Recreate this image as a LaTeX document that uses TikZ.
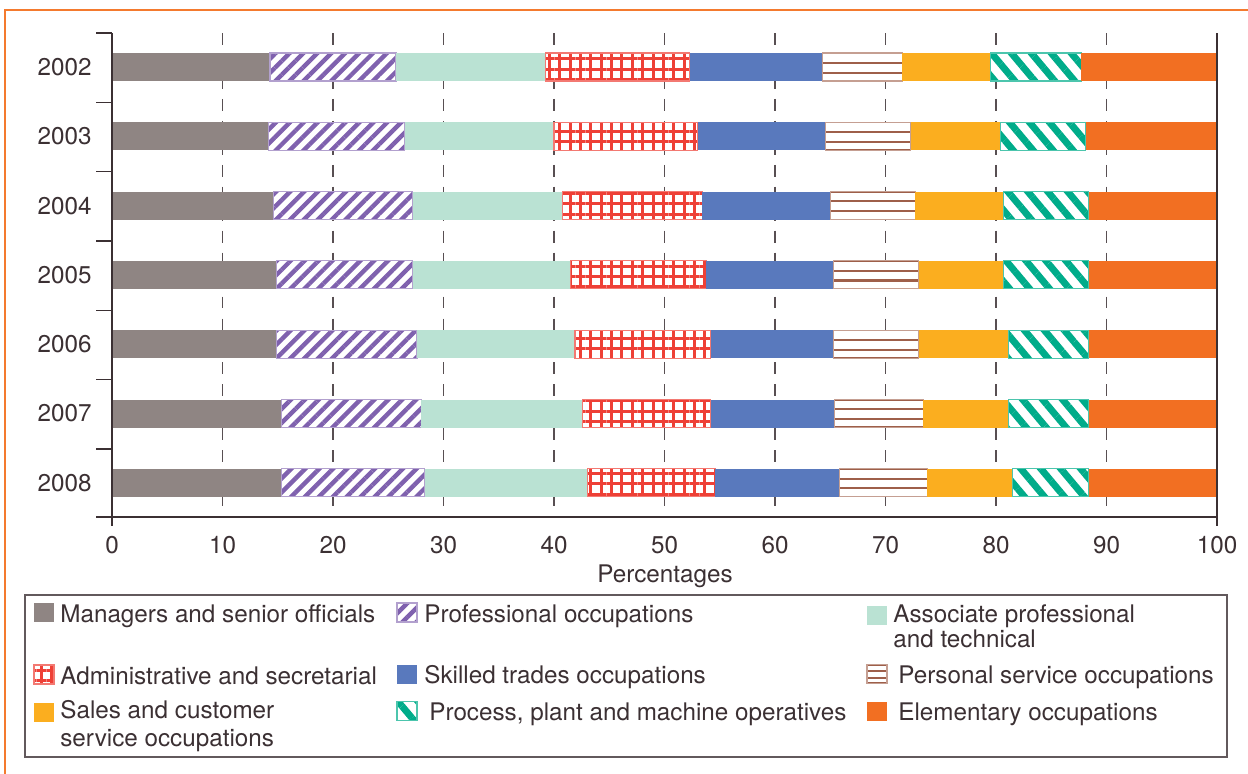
\documentclass[tikz,border=0pt]{standalone}
\usepackage{fontspec}
\setmainfont{TeX Gyre Heros}
\usepackage{tikz}
\usetikzlibrary{calc}
\usetikzlibrary{patterns.meta}
\definecolor{MgrCol}{HTML}{8F8583}
\definecolor{ProfCol}{HTML}{7F61AE}
\definecolor{AssocCol}{HTML}{BAE2D3}
\definecolor{AdminCol}{HTML}{EE4036}
\definecolor{SkilledCol}{HTML}{5979BD}
\definecolor{PersCol}{HTML}{9E5F4A}
\definecolor{SalesCol}{HTML}{FBAE1F}
\definecolor{ProcCol}{HTML}{00AC8A}
\definecolor{ElemCol}{HTML}{F26F22}
\definecolor{FrameCol}{HTML}{F47A2E}
\definecolor{InkCol}{HTML}{3B3033}
\newcommand{\xpos}[1]{112+11.05*#1}

\begin{document}
\begin{tikzpicture}[
x=0.02cm, y=-0.02cm,
every node/.style={font=\fontsize{13.8}{16.5}\selectfont, text=InkCol},
MgrFill/.style={fill=MgrCol},
ProfFill/.style={preaction={fill=white}, pattern={Lines[angle=45,distance=5.6pt,line width=2.5pt]}, pattern color=ProfCol, draw=ProfCol!60, line width=0.6pt},
AssocFill/.style={fill=AssocCol},
AdminFill/.style={preaction={fill=white}, pattern={Hatch[distance=5.9pt,line width=1.7pt]}, pattern color=AdminCol, draw=AdminCol!70, line width=0.6pt},
SkilledFill/.style={fill=SkilledCol},
PersFill/.style={fill=white, draw=PersCol!60, line width=0.6pt,
  path picture={
    \draw[PersCol, line width=1.2pt]
      ($(path picture bounding box.north west)!0.35!(path picture bounding box.south west)$) --
      ($(path picture bounding box.north east)!0.35!(path picture bounding box.south east)$)
      ($(path picture bounding box.north west)!0.7!(path picture bounding box.south west)$) --
      ($(path picture bounding box.north east)!0.7!(path picture bounding box.south east)$);
    \draw[PersCol, line width=1.2pt]
      (path picture bounding box.north west) -- (path picture bounding box.north east)
      (path picture bounding box.south west) -- (path picture bounding box.south east);
  }},
SalesFill/.style={fill=SalesCol},
ProcFill/.style={preaction={fill=white}, pattern={Lines[angle=-50,distance=8.7pt,line width=3.9pt]}, pattern color=ProcCol, draw=ProcCol!70, line width=0.6pt},
ElemFill/.style={fill=ElemCol},
GridLine/.style={draw=InkCol!85, line width=0.8pt, dash pattern=on 6.8pt off 5.7pt},
AxisLine/.style={draw=InkCol, line width=0.8pt},
YearLabel/.style={anchor=east, inner sep=0pt},
TickLabel/.style={inner sep=0pt},
Swatch/.style={minimum width=0.4cm, minimum height=0.38cm, inner sep=0pt, outer sep=0pt},
LegText/.style={inner sep=0pt, anchor=base west}
]
\useasboundingbox (0,0) rectangle (1248,774);

% frame
\draw[FrameCol, line width=1.5pt] (5,774) -- (5,10) -- (1248,10);

\foreach \t in {10,20,...,90}
  \draw[GridLine] ({\xpos{\t}},33) -- ({\xpos{\t}},517);

\foreach \yr/\a/\b/\c/\d/\e/\f/\g/\h [count=\i from 0] in {
  2002/14.3/25.7/39.2/52.3/64.3/71.5/79.5/87.7,
  2003/14.2/26.5/40.0/53.0/64.6/72.3/80.4/88.1,
  2004/14.6/27.2/40.8/53.4/65.0/72.7/80.7/88.4,
  2005/14.9/27.2/41.5/53.8/65.3/73.0/80.7/88.4,
  2006/14.9/27.6/41.9/54.2/65.3/73.0/81.1/88.4,
  2007/15.3/28.0/42.6/54.2/65.4/73.4/81.1/88.4,
  2008/15.3/28.3/43.0/54.6/65.8/73.8/81.5/88.4}{
  \pgfmathsetmacro{\yc}{67+69.3*\i}
  \foreach \p/\q/\s in {0/\a/MgrFill, \a/\b/ProfFill, \b/\c/AssocFill, \c/\d/AdminFill, \d/\e/SkilledFill, \e/\f/PersFill, \f/\g/SalesFill, \g/\h/ProcFill, \h/100/ElemFill}
    \path[\s] ({\xpos{\p}},\yc-14) rectangle ({\xpos{\q}},\yc+14);
  \node[YearLabel] (yr\yr) at (92,\yc) {\yr};
}

% axes
\draw[AxisLine] (96,517) -- (1217,517);
\draw[AxisLine] (112,33) -- (112,526);
\draw[AxisLine] (1217,33) -- (1217,526);
\foreach \i in {0,...,6}
  \draw[AxisLine] (96,{33+69.3*\i}) -- (112,{33+69.3*\i});

\foreach \t in {0,10,...,100}
  \node[TickLabel] (tk\t) at ({\xpos{\t}},545) {\t};
\node[anchor=base, inner sep=0pt] (xlabel) at (665,582) {Percentages};

% legend
\draw[draw=InkCol!80, line width=0.7pt] (25,595) rectangle (1227,757);

\node[Swatch, MgrFill] (swMgr) at (44,612.5) {};
\node[Swatch, ProfFill] (swProf) at (407,612.5) {};
\node[Swatch, AssocFill] (swAssoc) at (877,615) {};
\node[Swatch, AdminFill] (swAdmin) at (44,674.5) {};
\node[Swatch, SkilledFill] (swSkilled) at (407,674) {};
\node[Swatch, PersFill] (swPers) at (877,674) {};
\node[Swatch, SalesFill] (swSales) at (44,712.5) {};
\node[Swatch, ProcFill] (swProc) at (407,711) {};
\node[Swatch, ElemFill] (swElem) at (877,711) {};

\node[LegText] (lgMgr) at ([xshift=0.12cm]swMgr.south east) {Managers and senior officials};
\node[LegText] (lgProf) at ([xshift=0.14cm]swProf.south east) {Professional occupations};
\node[LegText, anchor=north west, align=left, font=\fontsize{13.8}{14.2}\selectfont] (lgAssoc) at ([xshift=0.12cm,yshift=0.02cm]swAssoc.north east) {Associate professional\\and technical};
\node[LegText] (lgAdmin) at ([xshift=0.12cm]swAdmin.south east) {Administrative and secretarial};
\node[LegText] (lgSkilled) at ([xshift=0.14cm]swSkilled.south east) {Skilled trades occupations};
\node[LegText] (lgPers) at ([xshift=0.22cm]swPers.south east) {Personal service occupations};
\node[LegText, anchor=north west, align=left, font=\fontsize{13.8}{16}\selectfont] (lgSales) at ([xshift=0.12cm,yshift=0.06cm]swSales.north east) {Sales and customer\\service occupations};
\node[LegText] (lgProc) at ([xshift=0.24cm]swProc.south east) {Process, plant and machine operatives};
\node[LegText] (lgElem) at ([xshift=0.22cm]swElem.south east) {Elementary occupations};

\end{tikzpicture}
\end{document}
